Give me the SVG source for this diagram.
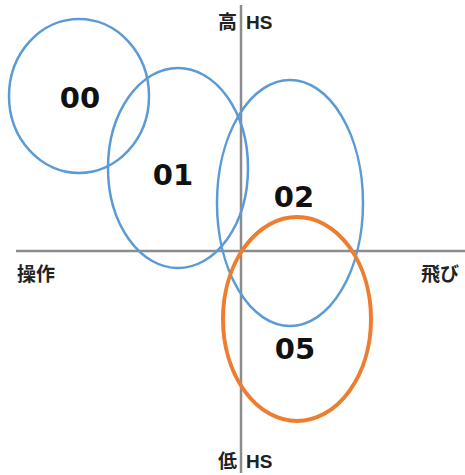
<svg xmlns="http://www.w3.org/2000/svg" width="465" height="475" viewBox="0 0 465 475">
<style>
.axis{stroke:#8c8c8c;stroke-width:2.5;fill:none}
.blue{fill:none;stroke:#5b9bd5;stroke-width:2.5}
.orange{fill:none;stroke:#ed7d31;stroke-width:4}
.num{font-family:"DejaVu Sans",sans-serif;font-weight:bold;font-size:29px;fill:#111;text-anchor:middle}
.lbl{font-family:"Liberation Sans","Noto Sans CJK JP",sans-serif;font-weight:bold;font-size:19px;fill:#222}
</style>
<rect width="465" height="475" fill="#fff"/>
<g id="axes">
<line class="axis" x1="241" y1="5" x2="241" y2="473"/>
<line class="axis" x1="16" y1="251" x2="465" y2="251"/>
</g>
<g id="axis-labels">
<text class="lbl" x="237" y="29" text-anchor="end">高</text>
<text class="lbl" x="246" y="29">HS</text>
<text class="lbl" x="237" y="468" text-anchor="end">低</text>
<text class="lbl" x="246" y="468">HS</text>
<text class="lbl" x="17" y="281">操作</text>
<text class="lbl" x="421" y="281">飛び</text>
</g>
<g id="n00"><ellipse class="blue" cx="79" cy="96" rx="70" ry="77"/><text class="num" x="80" y="108">00</text></g>
<g id="n01"><ellipse class="blue" cx="178" cy="168" rx="70" ry="100"/><text class="num" x="173" y="185">01</text></g>
<g id="n02"><ellipse class="blue" cx="290" cy="203" rx="73" ry="123"/><text class="num" x="294" y="207">02</text></g>
<g id="n05"><ellipse class="orange" cx="297" cy="319" rx="74" ry="102"/><text class="num" x="295" y="359">05</text></g>
<g id="connectors"></g>
</svg>
